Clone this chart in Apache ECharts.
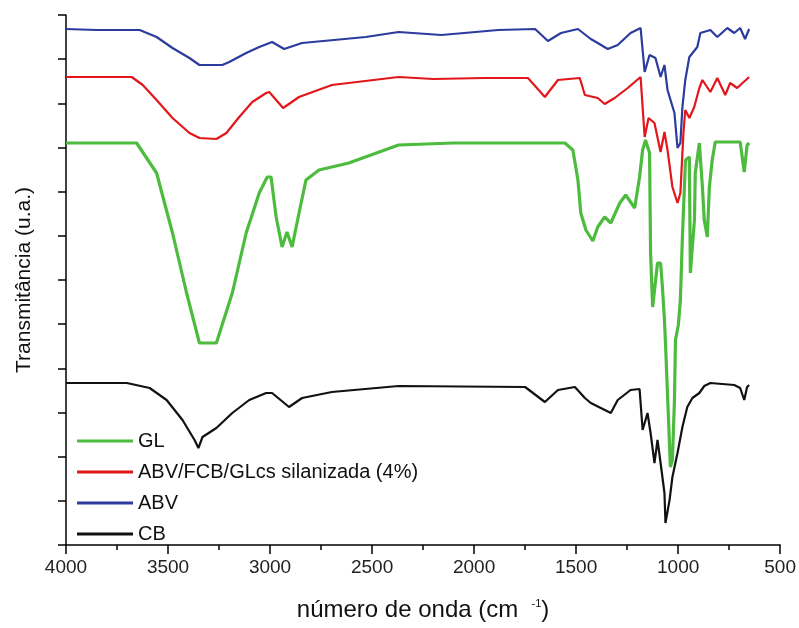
<!DOCTYPE html>
<html>
<head>
<meta charset="utf-8">
<script src="https://cdn.jsdelivr.net/npm/echarts@6/dist/echarts.min.js"></script>
<style>
  html, body { margin: 0; padding: 0; background: #fff; }
  #main { width: 799px; height: 628px; }
</style>
</head>
<body>
<div id="main"></div>
<script>
// espectros FTIR: [numero de onda, transmitancia (u.a.)]
var seriesNames = ["GL", "ABV/FCB/GLcs silanizada (4%)", "ABV", "CB"];
var xTicks = [4000, 3500, 3000, 2500, 2000, 1500, 1000, 500];

var abv = [[4000,516],[3850,515],[3639,515],[3556,508],[3478,497],[3395,487],[3346,480],[3234,480],[3200,483],[3117,492],[3053,498],[2990,503],[2931,496],[2843,502],[2531,508],[2370,513],[2160,510],[1882,515],[1701,516],[1638,504],[1574,512],[1491,516],[1428,506],[1394,502],[1345,496],[1296,500],[1233,512],[1184,517],[1164,473],[1140,490],[1111,487],[1086,468],[1067,480],[1052,455],[1018,432],[1003,397],[989,402],[979,438],[965,465],[945,488],[906,498],[891,512],[842,515],[808,508],[759,517],[725,512],[696,517],[672,506],[652,516]];

var abvFcb = [[4000,468],[3678,468],[3624,460],[3556,445],[3478,427],[3395,412],[3346,407],[3263,406],[3214,412],[3151,428],[3087,443],[3019,452],[3004,453],[2936,437],[2858,448],[2697,460],[2370,468],[2200,466],[1950,467],[1736,467],[1653,448],[1589,465],[1482,467],[1457,450],[1394,447],[1360,441],[1311,447],[1247,457],[1184,468],[1164,408],[1145,427],[1116,422],[1086,393],[1067,413],[1052,395],[1028,358],[1003,342],[989,352],[974,412],[965,435],[945,427],[921,438],[896,457],[881,465],[842,453],[808,467],[769,450],[745,462],[711,457],[652,468]];

var gl = [[4000,402],[3654,402],[3556,372],[3478,312],[3409,252],[3346,202],[3263,202],[3185,252],[3117,312],[3053,352],[3014,368],[2995,368],[2970,328],[2941,298],[2917,313],[2892,298],[2858,332],[2824,365],[2760,375],[2614,382],[2370,400],[2100,402],[1555,402],[1516,395],[1491,365],[1477,332],[1452,315],[1418,304],[1394,318],[1360,328],[1330,322],[1286,342],[1257,350],[1213,337],[1189,368],[1174,395],[1160,405],[1140,392],[1135,292],[1125,238],[1101,282],[1086,282],[1077,258],[1067,225],[1062,202],[1047,125],[1038,78],[1028,85],[1018,145],[1013,205],[999,220],[989,245],[979,308],[964,385],[945,388],[940,272],[920,325],[916,372],[896,402],[881,358],[872,325],[857,308],[847,358],[833,385],[818,403],[696,403],[676,373],[662,400],[652,402]];

var cb = [[4000,162],[3702,162],[3590,157],[3507,145],[3429,125],[3370,105],[3351,97],[3331,108],[3263,117],[3185,132],[3102,145],[3019,152],[2990,152],[2907,138],[2843,147],[2697,153],[2370,159],[1750,158],[1653,143],[1589,155],[1506,158],[1457,147],[1428,142],[1379,137],[1330,132],[1296,145],[1233,155],[1189,156],[1174,115],[1150,132],[1135,112],[1116,82],[1101,105],[1086,82],[1067,52],[1062,22],[1042,45],[1028,68],[1003,92],[979,118],[955,138],[930,147],[896,152],[872,159],[842,162],[725,160],[696,157],[676,145],[662,158],[652,160]];

var chart = echarts.init(document.getElementById("main"), null, { renderer: "canvas" });

var font = "Liberation Sans, Arial, sans-serif";

function lineSeries(name, data, color, width) {
  return {
    name: name,
    type: "line",
    data: data,
    showSymbol: false,
    symbol: "none",
    lineStyle: { color: color, width: width },
    itemStyle: { color: color },
  };
}

var option = {
  backgroundColor: "#ffffff",
  animation: false,
  grid: { left: 66, right: 16, top: 15, bottom: 83 },
  legend: {
    orient: "vertical",
    left: 72,
    top: 425,
    data: seriesNames,
    icon: "rect",
    itemWidth: 56,
    itemHeight: 3,
    itemGap: 9,
    textStyle: { fontFamily: font, fontSize: 20, color: "#111", lineHeight: 22 },
  },
  xAxis: {
    type: "value",
    inverse: true,
    min: 500,
    max: 4000,
    interval: 500,
    name: "{a|número de onda (cm  }{s|-1}{a|)}",
    nameLocation: "middle",
    nameGap: 53,
    nameTextStyle: {
      rich: {
        a: { fontFamily: font, fontSize: 24, color: "#111" },
        s: { fontFamily: font, fontSize: 11, color: "#111", verticalAlign: "top", padding: [0, 0, 12, 0] },
      },
    },
    axisLine: { lineStyle: { color: "#000", width: 1.5 } },
    axisTick: { length: 9, lineStyle: { color: "#000", width: 1.5 } },
    minorTick: { show: true, splitNumber: 2, length: 5, lineStyle: { color: "#000", width: 1.5 } },
    axisLabel: {
      fontFamily: font,
      fontSize: 19,
      color: "#222",
      margin: 13,
      customValues: xTicks,
      formatter: function (v) { return String(v); },
    },
    splitLine: { show: false },
  },
  yAxis: {
    type: "value",
    min: 0,
    max: 530,
    interval: 530 / 12,
    name: "Transmitância (u.a.)",
    nameLocation: "middle",
    nameGap: 31,
    nameTextStyle: { fontFamily: font, fontSize: 21, color: "#111" },
    axisLine: { show: true, lineStyle: { color: "#000", width: 1.5 } },
    axisTick: { show: true, length: 8, lineStyle: { color: "#000", width: 1.5 } },
    axisLabel: { show: false },
    splitLine: { show: false },
  },
  series: [
    lineSeries("CB", cb, "#111111", 2.2),
    lineSeries("ABV", abv, "#2b3c9e", 2.2),
    lineSeries("ABV/FCB/GLcs silanizada (4%)", abvFcb, "#e2161b", 2.2),
    lineSeries("GL", gl, "#4dbb3d", 3.2),
  ],
};

chart.setOption(option);
</script>
</body>
</html>
